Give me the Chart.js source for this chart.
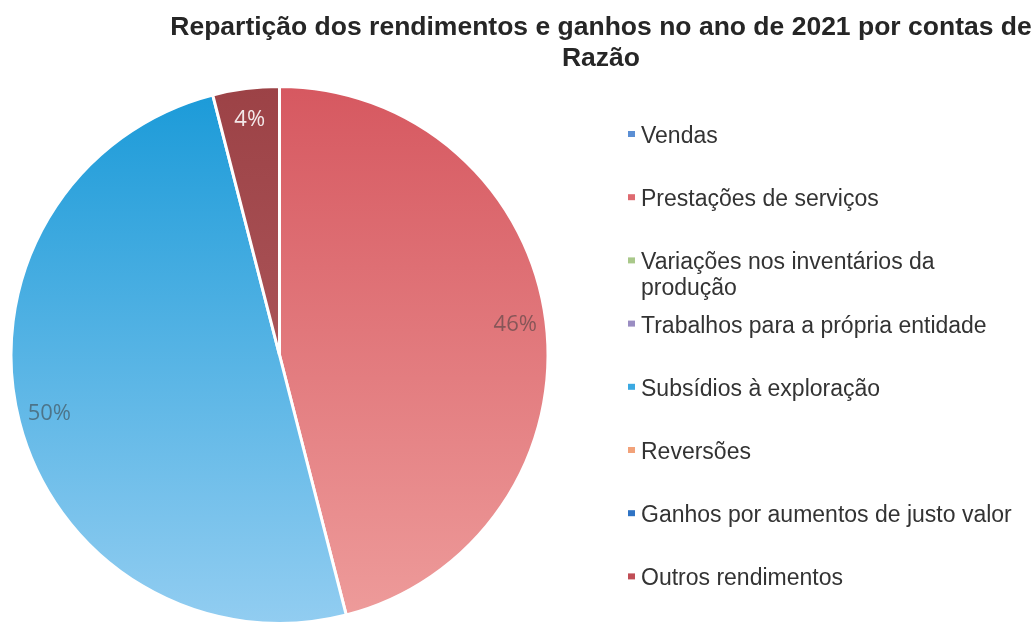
<!DOCTYPE html>
<html>
<head>
<meta charset="utf-8">
<script src="https://cdn.jsdelivr.net/npm/chart.js@4/dist/chart.umd.min.js"></script>
<style>
  html, body { margin: 0; padding: 0; background: #ffffff; }
  #wrap { position: relative; width: 1035px; height: 625px; }
</style>
</head>
<body>
<div id="wrap"><canvas id="pieChart" width="1035" height="625"></canvas></div>
<script>
const titleLines = ["Repartição dos rendimentos e ganhos no ano de 2021 por contas de", "Razão"];

const categories = [
    "Vendas",
    "Prestações de serviços",
    ["Variações nos inventários da", "produção"],
    "Trabalhos para a própria entidade",
    "Subsídios à exploração",
    "Reversões",
    "Ganhos por aumentos de justo valor",
    "Outros rendimentos"
];

// percentagens
const shares = [0, 46, 0, 0, 50, 0, 0, 4];

const legendColors = ["#5b8fd4", "#de6a70", "#a9c88a", "#9a8dc2", "#3ba9e2", "#f2a27a", "#2f73c4", "#c04e56"];
const sliceTop = ["#4a7ebb", "#d65860", "#9bbb59", "#8064a2", "#1a9ad8", "#f79646", "#2c6fbf", "#9c4246"];
const sliceBottom = ["#8fb3e0", "#ee9c9b", "#c8dcaa", "#b7a8d0", "#92cdf1", "#fac39c", "#7ea8dc", "#b86468"];

document.addEventListener("DOMContentLoaded", () => {
    const ctx = document.getElementById("pieChart").getContext("2d");
    const total = shares.reduce((a, b) => a + b, 0);

    const sliceFill = (c) => {
        const area = c.chart.chartArea;
        const i = c.dataIndex;
        if (!area) return sliceTop[i];
        const g = c.chart.ctx.createLinearGradient(0, area.top, 0, area.bottom);
        g.addColorStop(0, sliceTop[i]);
        g.addColorStop(1, sliceBottom[i]);
        return g;
    };

    // titulo, etiquetas e legenda desenhados no canvas
    const decor = {
        id: "decor",
        afterDatasetsDraw(chart) {
            const c = chart.ctx;
            const arcs = chart.getDatasetMeta(0).data;
            c.save();
            c.font = "22px 'Open Sans'";
            c.textAlign = "center";
            c.textBaseline = "middle";
            arcs.forEach((arc, i) => {
                if (!shares[i]) return;
                const mid = (arc.startAngle + arc.endAngle) / 2;
                const r = arc.outerRadius * 0.885;
                c.fillStyle = i === 7 ? "rgba(255,255,255,0.88)" : "rgba(60,60,60,0.55)";
                c.fillText(Math.round(shares[i] / total * 100) + "%", arc.x + Math.cos(mid) * r, arc.y + Math.sin(mid) * r);
            });

            c.fillStyle = "#262626";
            c.font = "bold 26.5px 'Liberation Sans', Arial";
            c.textBaseline = "alphabetic";
            titleLines.forEach((t, k) => c.fillText(t, 601, 35 + k * 31));

            c.textAlign = "left";
            c.font = "23px 'Liberation Sans', Arial";
            categories.forEach((lab, i) => {
                const base = 143 + i * 63.2;
                c.fillStyle = legendColors[i];
                c.fillRect(628, base - 12, 7, 6);
                c.fillStyle = "#333333";
                const lines = Array.isArray(lab) ? lab : [lab];
                lines.forEach((l, k) => c.fillText(l, 641, base + k * 26));
            });
            c.restore();
        }
    };

    new Chart(ctx, {
        type: "pie",
        data: {
            labels: categories.map(l => Array.isArray(l) ? l.join(" ") : l),
            datasets: [{
                data: shares,
                backgroundColor: sliceFill,
                borderColor: "#ffffff",
                borderWidth: 3
            }]
        },
        options: {
            responsive: false,
            animation: false,
            layout: { padding: { left: 9, right: 485, top: 85, bottom: 0 } },
            plugins: {
                legend: { display: false },
                title: { display: false },
                tooltip: { enabled: false }
            }
        },
        plugins: [decor]
    });
});
</script>
</body>
</html>
